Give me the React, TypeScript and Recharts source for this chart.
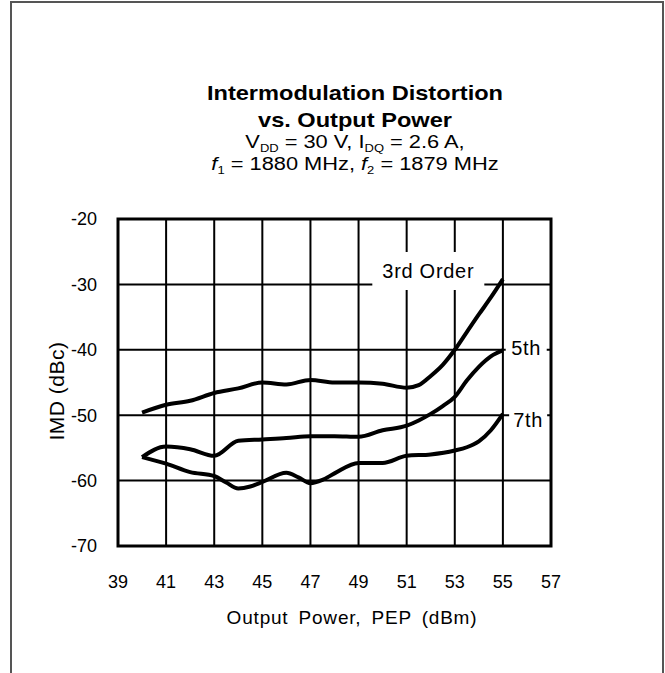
import React from "react";
import { LineChart, Line, XAxis, YAxis, CartesianGrid, ReferenceArea, ReferenceDot } from "recharts";

const thirdX = [40, 41, 42, 43, 44, 45, 46, 47, 48, 49, 50, 51, 51.5, 52, 52.5, 53, 53.5, 54, 54.5, 55];
const thirdY = [-49.6, -48.4, -47.8, -46.6, -45.9, -45.0, -45.3, -44.6, -45.0, -45.0, -45.2, -45.8, -45.4, -44.0, -42.3, -40.0, -37.3, -34.6, -32.0, -29.2];

const fifthX = [40, 41, 42, 43, 44, 45, 46, 47, 48, 49, 50, 51, 51.5, 52, 52.5, 53, 53.5, 54, 54.5, 55];
const fifthY = [-56.4, -54.8, -55.2, -56.2, -53.9, -53.7, -53.5, -53.2, -53.2, -53.3, -52.3, -51.6, -50.8, -49.8, -48.6, -47.2, -44.7, -42.6, -41.0, -40.1];

const seventhX = [40, 41, 42, 43, 43.5, 44, 44.5, 45, 46, 46.5, 47, 47.5, 48, 49, 50, 51, 52, 53, 53.5, 54, 54.5, 55];
const seventhY = [-56.4, -57.4, -58.7, -59.3, -60.3, -61.2, -60.9, -60.2, -58.8, -59.5, -60.4, -59.9, -58.9, -57.3, -57.3, -56.2, -56.0, -55.4, -54.9, -54.0, -52.3, -49.8];

const xTicks = [39, 41, 43, 45, 47, 49, 51, 53, 55, 57];
const yTicks = [-70, -60, -50, -40, -30, -20];

const labelText = ["3rd Order", "5th", "7th"];
const labelX = [51.9, 55.97, 56.05];
const labelY = [-27.95, -39.7, -50.7];

const zip = (xs: number[], ys: number[]) => xs.map((x, i) => ({ x, y: ys[i] }));

const FONT = '"Liberation Sans", Arial, sans-serif';
const boxW = [112, 41, 38];
const boxH = [38, 26, 26];

const boxLabel = (i: number) => (props: any) => {
  const { cx, cy } = props;
  return (
    <g>
      <rect x={cx - boxW[i] / 2} y={cy - boxH[i] / 2} width={boxW[i]} height={boxH[i]} fill="#fff" />
      <text x={cx} y={cy + 7} textAnchor="middle" fontSize={20} fontFamily={FONT} fill="#000" letterSpacing={0.7}>
        {labelText[i]}
      </text>
    </g>
  );
};

// title is a bit wider than the font, stretch it horizontally
const TX = 355;
const stretch = `translate(${TX} 0) scale(1.18 1) translate(${-TX} 0)`;

export default function App() {
  const tick = { fontSize: 18, fill: "#000", fontFamily: FONT };
  return (
    <div style={{ position: "absolute", left: 0, top: 0, width: 665, height: 673, background: "#fff", fontFamily: FONT, color: "#000", overflow: "hidden" }}>
      <div style={{ position: "absolute", left: 10, top: 1, width: 654, height: 700, boxSizing: "border-box", borderTop: "2px solid #555", borderLeft: "2px solid #555", borderRight: "2px solid #555" }} />

      <LineChart width={665} height={673} margin={{ top: 219, right: 114, bottom: 87, left: 58 }} style={{ position: "absolute", left: 0, top: 0 }}>
        <CartesianGrid stroke="#000" strokeWidth={2} />
        <XAxis
          type="number"
          dataKey="x"
          domain={[39, 57]}
          ticks={xTicks}
          allowDataOverflow
          axisLine={false}
          tickLine={false}
          tickSize={0}
          tickMargin={29}
          height={40}
          tick={tick}
        />
        <YAxis
          type="number"
          dataKey="y"
          domain={[-70, -20]}
          ticks={yTicks}
          allowDataOverflow
          axisLine={false}
          tickLine={false}
          tickSize={0}
          tickMargin={21}
          width={60}
          tick={tick}
        />
        <ReferenceArea x1={39} x2={57} y1={-70} y2={-20} fill="none" stroke="#000" strokeWidth={3} />
        {labelText.map((t, i) => (
          <ReferenceDot key={t} x={labelX[i]} y={labelY[i]} r={0} shape={boxLabel(i)} />
        ))}
        <Line data={zip(thirdX, thirdY)} dataKey="y" type="monotone" stroke="#000" strokeWidth={4} dot={false} isAnimationActive={false} />
        <Line data={zip(fifthX, fifthY)} dataKey="y" type="monotone" stroke="#000" strokeWidth={4} dot={false} isAnimationActive={false} />
        <Line data={zip(seventhX, seventhY)} dataKey="y" type="monotone" stroke="#000" strokeWidth={4} dot={false} isAnimationActive={false} />
      </LineChart>

      <svg width={665} height={673} style={{ position: "absolute", left: 0, top: 0 }} fontFamily={FONT} fill="#000">
        <g transform={stretch}>
          <text x={TX} y={100.5} textAnchor="middle" fontSize={20} fontWeight="bold">Intermodulation Distortion</text>
          <text x={TX} y={126.7} textAnchor="middle" fontSize={20} fontWeight="bold">vs. Output Power</text>
          <text x={TX} y={148} textAnchor="middle" fontSize={18.5}>
            V<tspan fontSize={11} dy={4}>DD</tspan>
            <tspan dy={-4}> = 30 V, I</tspan>
            <tspan fontSize={11} dy={4}>DQ</tspan>
            <tspan dy={-4}> = 2.6 A,</tspan>
          </text>
          <text x={TX} y={170} textAnchor="middle" fontSize={18.5}>
            <tspan fontStyle="italic">f</tspan>
            <tspan fontSize={11} dy={4}>1</tspan>
            <tspan dy={-4}> = 1880 MHz, </tspan>
            <tspan fontStyle="italic">f</tspan>
            <tspan fontSize={11} dy={4}>2</tspan>
            <tspan dy={-4}> = 1879 MHz</tspan>
          </text>
        </g>
        <text x={56} y={391} textAnchor="middle" fontSize={21} letterSpacing={0.5} dominantBaseline="central" transform="rotate(-90 56 391)">
          IMD (dBc)
        </text>
        <text x={352} y={624} textAnchor="middle" fontSize={19} letterSpacing={0.8} wordSpacing={4}>
          Output Power, PEP (dBm)
        </text>
      </svg>
    </div>
  );
}
